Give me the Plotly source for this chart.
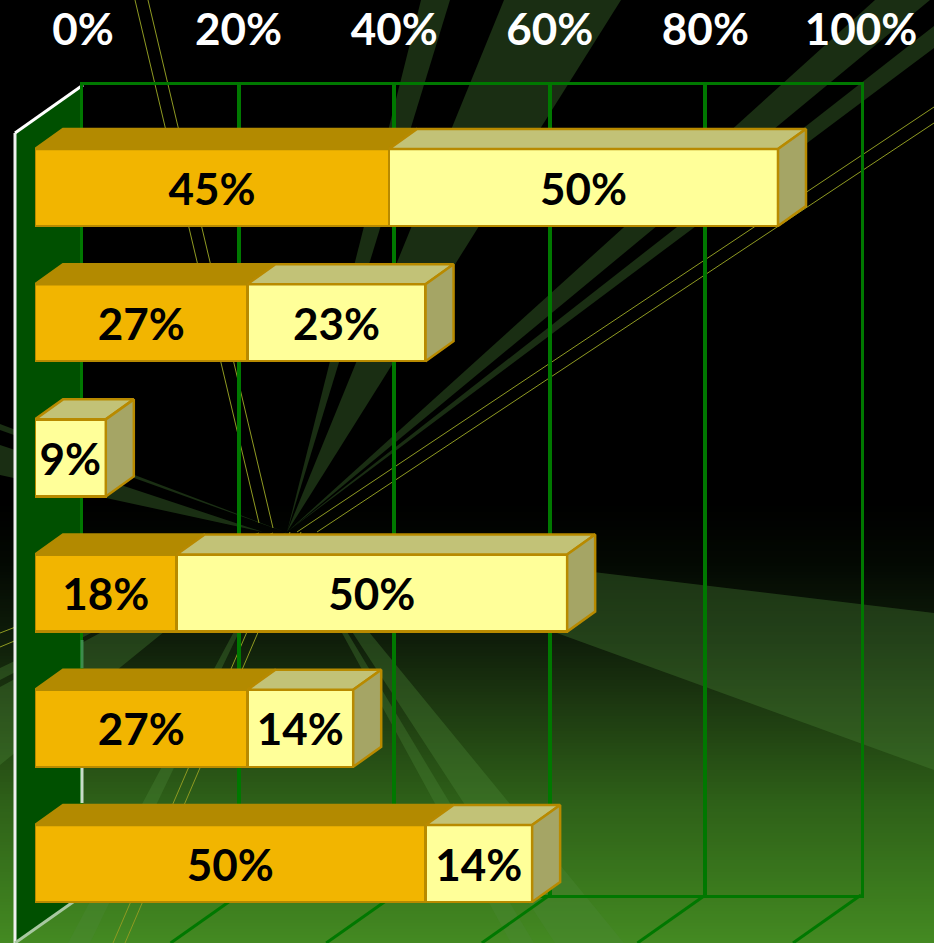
import plotly.graph_objects as go

# ---------- data ----------
rows = [0, 1, 2, 3, 4, 5]
series_a = [45.5, 27.3, None, 18.2, 27.3, 50.2]
series_b = [50.0, 22.9, 9.1, 50.2, 13.6, 13.7]
labels_a = ["45%", "27%", "", "18%", "27%", "50%"]
labels_b = ["50%", "23%", "9%", "50%", "14%", "14%"]
axis_ticks = [0, 20, 40, 60, 80, 100]
axis_labels = ["0%", "20%", "40%", "60%", "80%", "100%"]

# ---------- geometry ----------
W, H = 934, 943
FRONT_X0, BACK_X0, PX_PER = 35, 83, 7.78
ROW0, ROW_STEP = 187.5, 135.2
BAR_W = 0.57
DEPTH_X = 28 / PX_PER
DEPTH_Y = 20 / ROW_STEP
FONT = "Lato"

GOLD, GOLD_TOP = "#f2b500", "#b38a00"
PALE, PALE_TOP, PALE_SIDE = "#ffff99", "#c2c277", "#a5a565"
EDGE = "#b88a00"
GRID = "#007800"


def px(x):
    return x / W


def py(y):
    return 1 - y / H


def poly(points, fill, line=None, width=0):
    path = "M" + " L".join(f"{px(x):.5f},{py(y):.5f}" for x, y in points) + " Z"
    return dict(type="path", path=path, xref="paper", yref="paper", layer="below",
                fillcolor=fill, line=dict(color=line or fill, width=width))


def seg(x0, y0, x1, y1, color, width, layer="below"):
    return dict(type="line", x0=px(x0), y0=py(y0), x1=px(x1), y1=py(y1), xref="paper",
                yref="paper", layer=layer, line=dict(color=color, width=width))


shapes = []
# background gradient, painted top to bottom with overlap so no seams appear
stops = [(500, (0, 0, 0)), (560, (3, 8, 2)), (640, (15, 30, 10)), (700, (28, 55, 16)),
         (800, (46, 96, 24)), (895, (60, 124, 30)), (943, (68, 138, 34))]
for y in range(500, 943, 3):
    for (y0, c0), (y1, c1) in zip(stops, stops[1:]):
        if y0 <= y <= y1:
            t = (y - y0) / (y1 - y0)
            c = tuple(round(a + (b - a) * t) for a, b in zip(c0, c1))
            shapes.append(dict(type="rect", xref="paper", yref="paper", layer="below",
                               x0=0, x1=1, y0=0, y1=py(y),
                               fillcolor=f"rgb{c}", line=dict(width=0)))
            break

# radiating bands, all from one vanishing point
RAY = "rgba(75,135,55,0.34)"
APEX = (287, 532)
bands = [
    [APEX, (504, 0), (621, 0)],
    [APEX, (421, 0), (450, 0)],
    [APEX, (875, 0), (930, 0)],
    [APEX, (934, 26), (934, 48)],
    [(287, 535), (934, 613), (934, 770)],
    [APEX, (0, 668), (0, 680)],
    [APEX, (0, 687), (0, 765)],
    [APEX, (68, 943), (90, 943)],
    [(263, 532), (0, 445), (0, 475)],
    [(285, 532), (0, 424), (0, 430)],
    [APEX, (555, 943), (624, 943)],
    [APEX, (511, 943), (534, 943)],
]
for b in bands:
    shapes.append(poly(b, RAY))

# thin rays
THIN = "#8f9a22"
for a, b in [((273, 528), (148, 0)), ((259, 523), (135, 0)), ((297, 532), (934, 107)),
             ((317, 532), (934, 123)), ((290, 532), (113, 943)), ((301, 532), (125, 943)),
             ((259, 533), (0, 633)), ((273, 533), (0, 647))]:
    shapes.append(seg(*a, *b, THIN, 1))

# left wall and floor
shapes.append(poly([(15, 133), (83, 85), (83, 895), (15, 943)], "#005000"))
shapes.append(seg(15, 133, 83, 85, "#ffffff", 3))
shapes.append(seg(15, 133, 15, 943, "#f0f0f0", 3))
shapes.append(seg(83, 895, 15, 943, "#a8c8a0", 3))
for t in axis_ticks[1:]:
    bx = BACK_X0 + t * PX_PER
    shapes.append(seg(bx, 895, bx - 68, 943, GRID, 3))
# pale stretches of the wall's inner edge
shapes.append(seg(82, 640, 82, 668, "#3c8c4c", 3, "above"))
shapes.append(seg(82, 768, 82, 803, "#c8dcc8", 3, "above"))

fig = go.Figure()

# back wall: carries the gridlines and percentage labels
fig.add_trace(go.Scatter(x=axis_ticks, y=[0] * len(axis_ticks), mode="markers",
                         marker=dict(opacity=0), xaxis="x", yaxis="y", hoverinfo="skip",
                         showlegend=False))

# front faces
fig.add_trace(go.Bar(y=rows, x=series_a, orientation="h", width=BAR_W, xaxis="x2", yaxis="y2",
                     marker=dict(color=GOLD, line=dict(color=EDGE, width=2.5)),
                     text=labels_a, textposition="inside", insidetextanchor="middle",
                     constraintext="none", textangle=0, cliponaxis=False,
                     textfont=dict(family=FONT, size=44, color="#000000", weight="bold"),
                     showlegend=False))
fig.add_trace(go.Bar(y=rows, x=series_b, orientation="h", width=BAR_W, xaxis="x2", yaxis="y2",
                     marker=dict(color=PALE, line=dict(color=EDGE, width=2.5)),
                     text=labels_b, textposition="inside", insidetextanchor="middle",
                     constraintext="none", textangle=0, cliponaxis=False,
                     textfont=dict(family=FONT, size=44, color="#000000", weight="bold"),
                     showlegend=False))


def face(xs, ys, fill, line):
    fig.add_trace(go.Scatter(x=xs, y=ys, mode="lines", fill="toself", fillcolor=fill,
                             line=dict(color=line, width=2.5), xaxis="x2", yaxis="y2",
                             cliponaxis=False, hoverinfo="skip", showlegend=False))


# top and end faces, computed from the values
for r, a, b in zip(rows, series_a, series_b):
    a = a or 0
    top, bot = r - BAR_W / 2, r + BAR_W / 2
    end = a + b
    if a:
        face([0, a, a + DEPTH_X, DEPTH_X, 0], [top, top, top - DEPTH_Y, top - DEPTH_Y, top],
             GOLD_TOP, GOLD_TOP)
    face([a, end, end + DEPTH_X, a + DEPTH_X, a], [top, top, top - DEPTH_Y, top - DEPTH_Y, top],
         PALE_TOP, EDGE)
    face([end, end + DEPTH_X, end + DEPTH_X, end, end],
         [top, top - DEPTH_Y, bot - DEPTH_Y, bot, top], PALE_SIDE, EDGE)

fig.update_layout(
    width=W, height=H, margin=dict(l=0, r=0, t=0, b=0, autoexpand=False), barmode="stack",
    paper_bgcolor="#000000", plot_bgcolor="rgba(0,0,0,0)", showlegend=False, shapes=shapes,
    xaxis=dict(domain=[px(BACK_X0), px(BACK_X0 + 100 * PX_PER)], range=[0, 100], anchor="y",
               side="top", tickvals=axis_ticks, ticktext=axis_labels, ticks="", showgrid=True,
               gridcolor=GRID, gridwidth=3.5, zeroline=False, showline=True, linecolor=GRID,
               linewidth=3, mirror=True, ticklabelstandoff=19,
               tickfont=dict(family=FONT, size=44, color="#ffffff", weight="bold")),
    yaxis=dict(domain=[py(895), py(85)], range=[0, 1], anchor="x", showgrid=False,
               zeroline=False, showticklabels=False, ticks="", showline=True, linecolor=GRID,
               linewidth=3, mirror=True),
    xaxis2=dict(domain=[px(FRONT_X0), px(FRONT_X0 + 100 * PX_PER)], range=[0, 100], anchor="y2",
                visible=False),
    yaxis2=dict(domain=[0, 1], range=[(H - ROW0) / ROW_STEP, -ROW0 / ROW_STEP], anchor="x2",
                visible=False),
)

fig.write_html("out.html", config={"displayModeBar": False},
               post_script="document.body.style.margin='0';document.documentElement.style.background='#000';")
